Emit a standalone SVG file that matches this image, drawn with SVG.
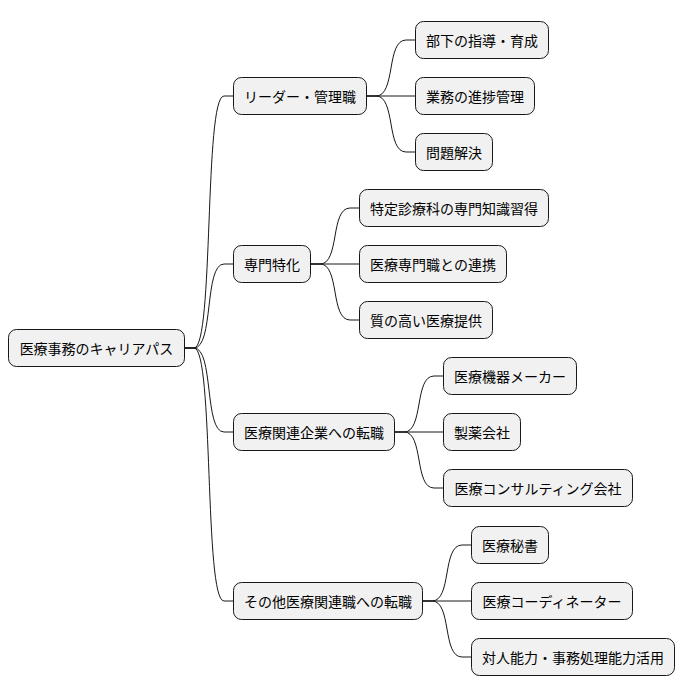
<svg xmlns="http://www.w3.org/2000/svg" width="684" height="696" viewBox="0 0 684 696">
<style>
rect{fill:#f1f1f1;stroke:#181818;stroke-width:1}
text{font-family:"Noto Sans CJK JP","Noto Sans CJK SC",sans-serif;font-size:14px;fill:#000;text-anchor:middle;dominant-baseline:central}
#c path{fill:none;stroke:#181818;stroke-width:1}
</style>
<rect x="0" y="0" width="684" height="696" style="fill:#fff;stroke:none"/>
<g id="c">
<path d="M184,348 H194 C214,348 204,96 224,96 H233"/>
<path d="M184,348 H194 C214,348 204,264 224,264 H233"/>
<path d="M184,348 H194 C214,348 204,432 224,432 H233"/>
<path d="M184,348 H194 C214,348 204,601 224,601 H233"/>
<path d="M366,96 H376 C396,96 386,40 406,40 H415"/>
<path d="M366,96 H415"/>
<path d="M366,96 H376 C396,96 386,152 406,152 H415"/>
<path d="M310,264 H320 C340,264 330,208 350,208 H359"/>
<path d="M310,264 H359"/>
<path d="M310,264 H320 C340,264 330,320 350,320 H359"/>
<path d="M394,432 H404 C424,432 414,376 434,376 H443"/>
<path d="M394,432 H443"/>
<path d="M394,432 H404 C424,432 414,488 434,488 H443"/>
<path d="M422,601 H432 C452,601 442,545 462,545 H471"/>
<path d="M422,601 H471"/>
<path d="M422,601 H432 C452,601 442,657 462,657 H471"/>
</g>
<g id="root"><rect x="8.5" y="329.5" width="176" height="37" rx="8"/><text x="96.5" y="348">医療事務のキャリアパス</text></g>
<g id="n1"><rect x="233.5" y="77.5" width="133" height="37" rx="8"/><text x="300" y="96">リーダー・管理職</text></g>
<g id="n2"><rect x="233.5" y="245.5" width="77" height="37" rx="8"/><text x="272" y="264">専門特化</text></g>
<g id="n3"><rect x="233.5" y="413.5" width="161" height="37" rx="8"/><text x="314" y="432">医療関連企業への転職</text></g>
<g id="n4"><rect x="233.5" y="582.5" width="189" height="37" rx="8"/><text x="328" y="601">その他医療関連職への転職</text></g>
<g id="n11"><rect x="415.5" y="21.5" width="133" height="37" rx="8"/><text x="482" y="40">部下の指導・育成</text></g>
<g id="n12"><rect x="415.5" y="77.5" width="119" height="37" rx="8"/><text x="475" y="96">業務の進捗管理</text></g>
<g id="n13"><rect x="415.5" y="133.5" width="77" height="37" rx="8"/><text x="454" y="152">問題解決</text></g>
<g id="n21"><rect x="359.5" y="189.5" width="189" height="37" rx="8"/><text x="454" y="208">特定診療科の専門知識習得</text></g>
<g id="n22"><rect x="359.5" y="245.5" width="147" height="37" rx="8"/><text x="433" y="264">医療専門職との連携</text></g>
<g id="n23"><rect x="359.5" y="301.5" width="133" height="37" rx="8"/><text x="426" y="320">質の高い医療提供</text></g>
<g id="n31"><rect x="443.5" y="357.5" width="133" height="37" rx="8"/><text x="510" y="376">医療機器メーカー</text></g>
<g id="n32"><rect x="443.5" y="413.5" width="77" height="37" rx="8"/><text x="482" y="432">製薬会社</text></g>
<g id="n33"><rect x="443.5" y="469.5" width="189" height="37" rx="8"/><text x="538" y="488">医療コンサルティング会社</text></g>
<g id="n41"><rect x="471.5" y="526.5" width="77" height="37" rx="8"/><text x="510" y="545">医療秘書</text></g>
<g id="n42"><rect x="471.5" y="582.5" width="161" height="37" rx="8"/><text x="552" y="601">医療コーディネーター</text></g>
<g id="n43"><rect x="471.5" y="638.5" width="203" height="37" rx="8"/><text x="573" y="657">対人能力・事務処理能力活用</text></g>
</svg>
